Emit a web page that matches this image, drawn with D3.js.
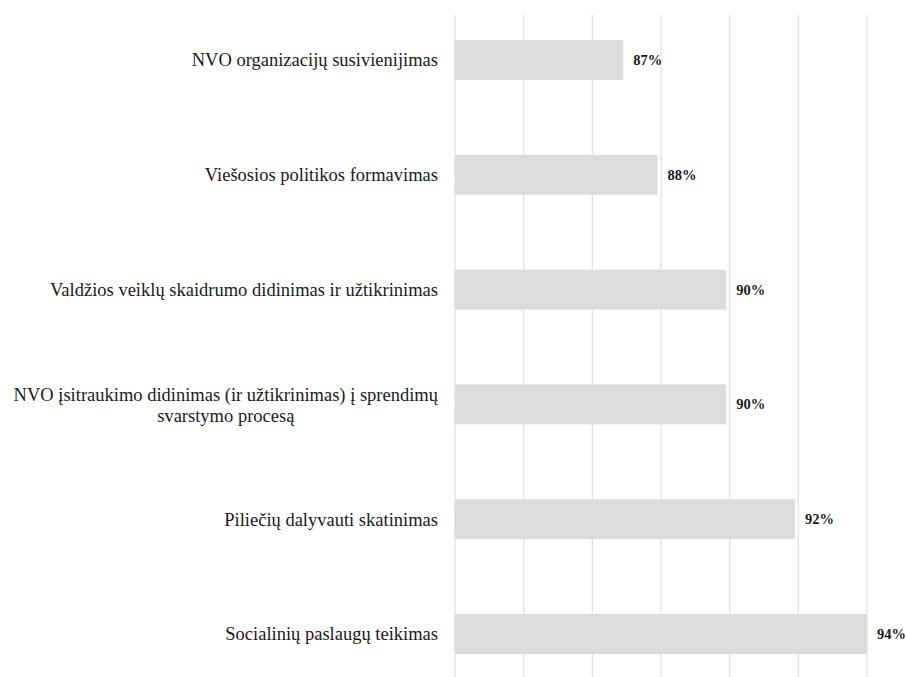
<!DOCTYPE html>
<html>
<head>
<meta charset="utf-8">
<script src="https://cdn.jsdelivr.net/npm/d3@7"></script>
<style>
  body { margin: 0; background: #fff; }
  text { font-family: "Liberation Serif", "Times New Roman", serif; fill: #1a1a1a; }
</style>
</head>
<body>
<div id="chart"></div>
<script>
// Data
const categories = [
  "NVO organizacijų susivienijimas",
  "Viešosios politikos formavimas",
  "Valdžios veiklų skaidrumo didinimas ir užtikrinimas",
  "NVO įsitraukimo didinimas (ir užtikrinimas) į sprendimų svarstymo procesą",
  "Piliečių dalyvauti skatinimas",
  "Socialinių paslaugų teikimas"
];
const values = [86.9, 87.9, 89.9, 89.9, 91.9, 94.0];
const valueLabels = ["87%", "88%", "90%", "90%", "92%", "94%"];
const ticks = [82, 84, 86, 88, 90, 92, 94];

// wrapped label lines for the long category
const labelLines = {
  "NVO įsitraukimo didinimas (ir užtikrinimas) į sprendimų svarstymo procesą":
    ["NVO įsitraukimo didinimas (ir užtikrinimas) į sprendimų", "svarstymo procesą"]
};

const W = 906, H = 677;
const x0 = 455, x1 = 867;

const svg = d3.select("#chart")
  .append("svg")
  .attr("width", W)
  .attr("height", H);

const x = d3.scaleLinear()
  .domain([82, 94])
  .range([x0, x1]);

const y = d3.scaleBand()
  .domain(categories)
  .range([2.6, 2.6 + 6 * 114.8])
  .paddingInner(0.652)
  .paddingOuter(0.326);

// vertical gridlines
svg.append("g")
  .selectAll("line")
  .data(ticks)
  .enter().append("line")
  .attr("x1", d => x(d))
  .attr("x2", d => x(d))
  .attr("y1", 15)
  .attr("y2", H)
  .attr("stroke", "#e2e2e2")
  .attr("stroke-width", 1.3);

// bars
svg.append("g")
  .selectAll("rect")
  .data(categories)
  .enter().append("rect")
  .attr("x", x0)
  .attr("y", d => y(d))
  .attr("width", (d, i) => x(values[i]) - x0)
  .attr("height", y.bandwidth())
  .attr("fill", "#dcdcdc");

// value labels
svg.append("g")
  .selectAll("text")
  .data(categories)
  .enter().append("text")
  .attr("x", (d, i) => x(values[i]) + 10)
  .attr("y", d => y(d) + y.bandwidth() / 2)
  .attr("dy", "0.35em")
  .style("font-size", "14.5px")
  .style("font-weight", "bold")
  .text((d, i) => valueLabels[i]);

// category labels
const lab = svg.append("g")
  .selectAll("text")
  .data(categories)
  .enter().append("text")
  .attr("x", 438)
  .attr("y", d => y(d) + y.bandwidth() / 2)
  .attr("text-anchor", "end")
  .style("font-size", "18.5px");

lab.each(function(d) {
  const t = d3.select(this);
  const lines = labelLines[d];
  if (!lines) {
    t.attr("dy", "0.35em").text(d);
    return;
  }
  // multi-line: centre the lines on the widest one
  t.text(lines[0]).attr("dy", "0.35em");
  const wFirst = this.getComputedTextLength();
  t.text(null);
  const cx = 438 - wFirst / 2;
  lines.forEach((s, k) => {
    t.append("tspan")
      .attr("x", cx)
      .attr("text-anchor", "middle")
      .attr("dy", k === 0 ? (-0.55 + 0.35) + "em" : "1.15em")
      .text(s);
  });
});
</script>
</body>
</html>
